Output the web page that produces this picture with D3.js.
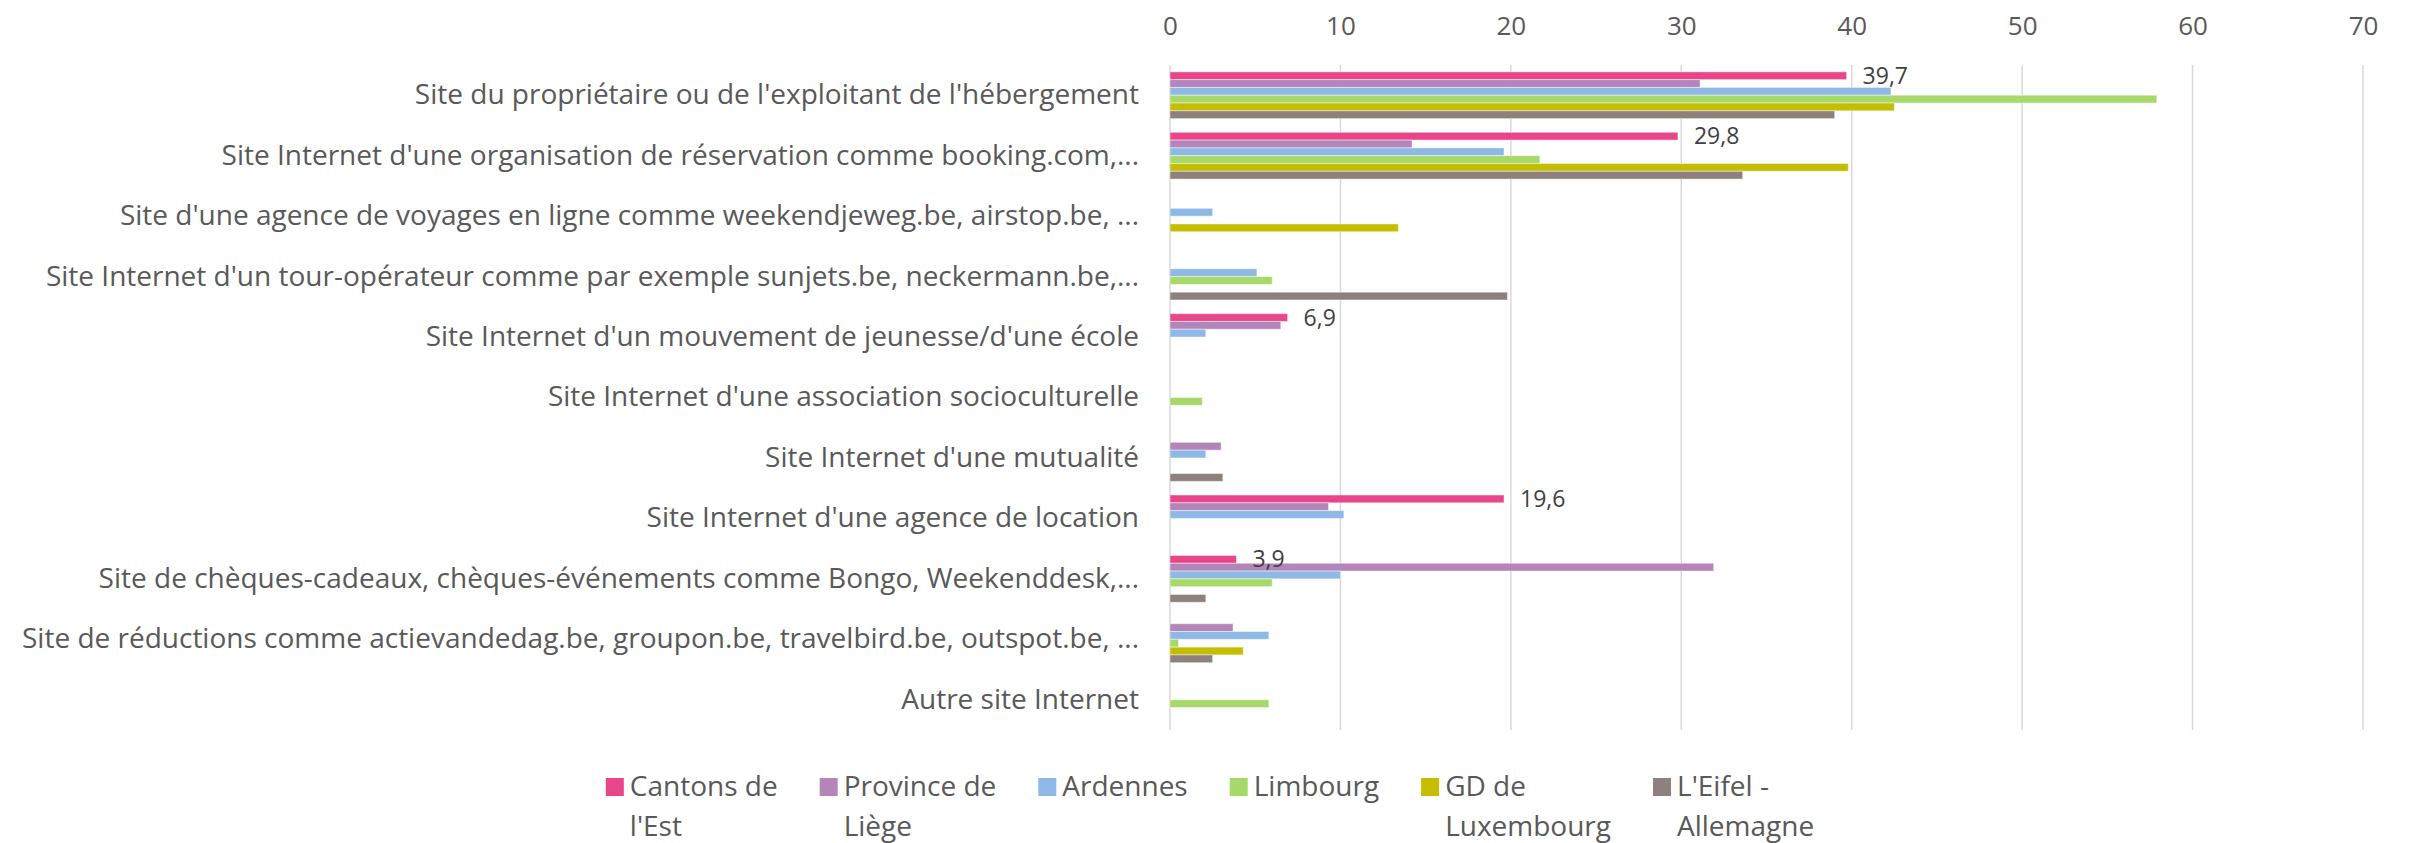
<!DOCTYPE html>
<html>
<head>
<meta charset="utf-8">
<script src="https://cdn.jsdelivr.net/npm/d3@7"></script>
<style>
  body { margin: 0; background: #fff; }
  svg text { font-family: "Open Sans", sans-serif; fill: #595959; }
</style>
</head>
<body>
<svg id="chart"></svg>
<script>
const categories = [
  "Site du propriétaire ou de l'exploitant de l'hébergement",
  "Site Internet d'une organisation de réservation comme booking.com,...",
  "Site d'une agence de voyages en ligne comme weekendjeweg.be, airstop.be, ...",
  "Site Internet d'un tour-opérateur comme par exemple sunjets.be, neckermann.be,...",
  "Site Internet d'un mouvement de jeunesse/d'une école",
  "Site Internet d'une association socioculturelle",
  "Site Internet d'une mutualité",
  "Site Internet d'une agence de location",
  "Site de chèques-cadeaux, chèques-événements comme Bongo, Weekenddesk,...",
  "Site de réductions comme actievandedag.be, groupon.be, travelbird.be, outspot.be, ...",
  "Autre site Internet"
];

const seriesNames = ["Cantons de l'Est", "Province de Liège", "Ardennes", "Limbourg", "GD de Luxembourg", "L'Eifel - Allemagne"];
const seriesColors = ["#E9468A", "#B385B9", "#8EB8E5", "#A6D96A", "#C5BE00", "#8E807D"];

const cantonsEst = [39.7, 29.8, 0, 0, 6.9, 0, 0, 19.6, 3.9, 0, 0];
const provinceLiege = [31.1, 14.2, 0, 0, 6.5, 0, 3.0, 9.3, 31.9, 3.7, 0];
const ardennes = [42.3, 19.6, 2.5, 5.1, 2.1, 0, 2.1, 10.2, 10.0, 5.8, 0];
const limbourg = [57.9, 21.7, 0, 6.0, 0, 1.9, 0, 0, 6.0, 0.5, 5.8];
const gdLuxembourg = [42.5, 39.8, 13.4, 0, 0, 0, 0, 0, 0, 4.3, 0];
const eifel = [39.0, 33.6, 0, 19.8, 0, 0, 3.1, 0, 2.1, 2.5, 0];

const tickValues = [0, 10, 20, 30, 40, 50, 60, 70];

const seriesValues = [cantonsEst, provinceLiege, ardennes, limbourg, gdLuxembourg, eifel];

const w = 2410;
const h = 843;
const svg = d3.select("#chart").attr("width", w).attr("height", h);

const plot = { left: 1170, right: 2363, top: 65, bottom: 730 };

const x = d3.scaleLinear().domain([0, 70]).range([plot.left, plot.right]);
const y0 = d3.scaleBand().domain(categories).range([plot.top, plot.bottom])
  .paddingInner(0.226).paddingOuter(0.113);
const y1 = d3.scaleBand().domain(seriesNames).range([0, y0.bandwidth()]);

// gridlines
svg.append("g")
  .selectAll("line")
  .data(tickValues)
  .enter()
  .append("line")
  .attr("x1", (d) => x(d))
  .attr("x2", (d) => x(d))
  .attr("y1", plot.top)
  .attr("y2", plot.bottom)
  .attr("stroke", "#D9D9D9")
  .attr("stroke-width", 1.5);

// top axis labels
const xAxis = svg.append("g")
  .attr("transform", `translate(0,35)`)
  .call(d3.axisTop(x).tickValues(tickValues).tickSize(0).tickPadding(0));
xAxis.select(".domain").remove();
xAxis.selectAll("text").style("font-size", "26px").attr("fill", "#595959");

// category labels
const yAxis = svg.append("g")
  .attr("transform", `translate(${plot.left},0)`)
  .call(d3.axisLeft(y0).tickSize(0).tickPadding(31));
yAxis.select(".domain").remove();
yAxis.selectAll("text").style("font-size", "28px").attr("fill", "#595959");

// bars
const groups = svg.append("g")
  .selectAll("g")
  .data(seriesNames)
  .enter()
  .append("g")
  .attr("fill", (d, i) => seriesColors[i]);

groups.selectAll("rect")
  .data((s, i) => seriesValues[i].map((v, j) => ({ s, v, c: categories[j] })))
  .enter()
  .filter((d) => d.v > 0)
  .append("rect")
  .attr("x", x(0))
  .attr("y", (d) => y0(d.c) + y1(d.s))
  .attr("width", (d) => x(d.v) - x(0))
  .attr("height", y1.bandwidth())
  .attr("stroke", "#fff")
  .attr("stroke-opacity", 0.45)
  .attr("stroke-width", 1);

// data labels for first series
svg.append("g")
  .selectAll("text")
  .data(cantonsEst.map((v, j) => ({ v, c: categories[j] })).filter((d) => d.v > 0))
  .enter()
  .append("text")
  .attr("x", (d) => x(d.v) + 16)
  .attr("y", (d) => y0(d.c) + y1(seriesNames[0]) + y1.bandwidth() / 2)
  .attr("dy", "0.35em")
  .style("font-size", "23px")
  .style("fill", "#404040")
  .text((d) => d3.format(".1f")(d.v).replace(".", ","));

// legend
const legend = svg.append("g");
const legendFont = 28;
const maxLegendWidth = 185;
const sq = 18;
let cursor = 0;
const measure = legend.append("text").style("font-size", legendFont + "px");
function textWidth(t) {
  measure.text(t);
  return measure.node().getComputedTextLength();
}
const items = seriesNames.map((name, i) => {
  const words = name.split(" ");
  const lines = [];
  let line = "";
  words.forEach((wd) => {
    const trial = line ? line + " " + wd : wd;
    if (line && textWidth(trial) > maxLegendWidth) {
      lines.push(line);
      line = wd;
    } else {
      line = trial;
    }
  });
  lines.push(line);
  const width = d3.max(lines, (l) => textWidth(l));
  const item = { name, lines, color: seriesColors[i], x: cursor };
  cursor += sq + 6 + width + 42;
  return item;
});
measure.remove();
const legendWidth = cursor - 42;
const legendX = 1210 - legendWidth / 2;

const li = legend.selectAll(".legend-item")
  .data(items)
  .enter()
  .append("g")
  .attr("class", "legend-item")
  .attr("transform", (d) => `translate(${legendX + d.x},796)`);

li.append("rect")
  .attr("x", 0)
  .attr("y", -sq)
  .attr("width", sq)
  .attr("height", sq)
  .attr("fill", (d) => d.color);

li.append("text")
  .style("font-size", legendFont + "px")
  .selectAll("tspan")
  .data((d) => d.lines)
  .enter()
  .append("tspan")
  .attr("x", sq + 6)
  .attr("y", (d, i) => i * 40)
  .text((d) => d);
</script>
</body>
</html>
